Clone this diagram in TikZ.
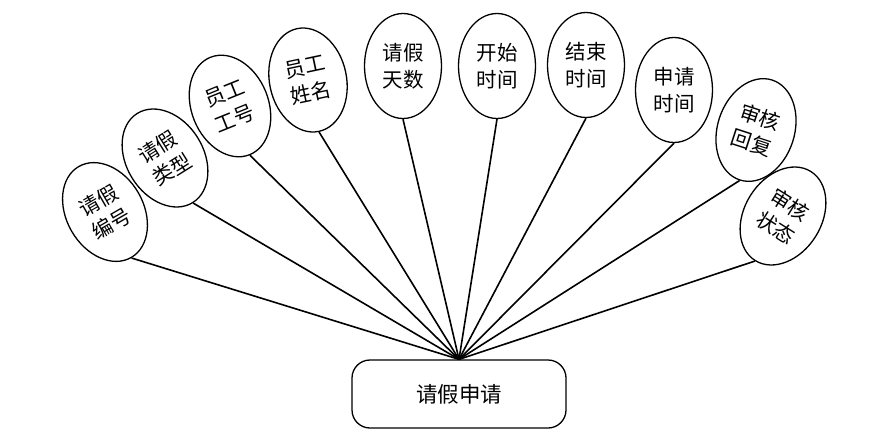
\documentclass[tikz,border=0pt]{standalone}
\usepackage{fontspec}
\newfontfamily\cjk{Noto Sans CJK SC}
\usetikzlibrary{shapes.geometric}
\begin{document}
\begin{tikzpicture}[x=1pt,y=-1pt,
 attr/.style={ellipse,draw,line width=1.3pt,minimum width=77pt,minimum height=105pt,inner sep=0pt,align=center,font=\cjk\fontsize{20.5}{27}\selectfont},
 entity/.style={draw,rounded corners=18pt,line width=1.3pt,minimum width=214pt,minimum height=68pt,font=\cjk\fontsize{21.5}{24}\selectfont},
 link/.style={line width=1.6pt}]
\useasboundingbox (0,0) rectangle (871,442);
\node[entity] (r) at (459,394) {请假申请};
\node[attr,rotate=30] (e1) at (105,212) {请假\\编号};
\node[attr,rotate=32] (e2) at (165,158) {请假\\类型};
\node[attr,rotate=22] (e3) at (230,106) {员工\\工号};
\node[attr,rotate=12] (e4) at (308,80) {员工\\姓名};
\node[attr] (e5) at (403,66) {请假\\天数};
\node[attr] (e6) at (497,66) {开始\\时间};
\node[attr] (e7) at (586,65) {结束\\时间};
\node[attr] (e8) at (674,90) {申请\\时间};
\node[attr,rotate=-18] (e9) at (756,130) {审核\\回复};
\node[attr,rotate=-32] (e10) at (783,216) {审核\\状态};
\foreach \i in {1,...,10} {\draw[link] (r.north) -- (e\i.south);}
\end{tikzpicture}
\end{document}
